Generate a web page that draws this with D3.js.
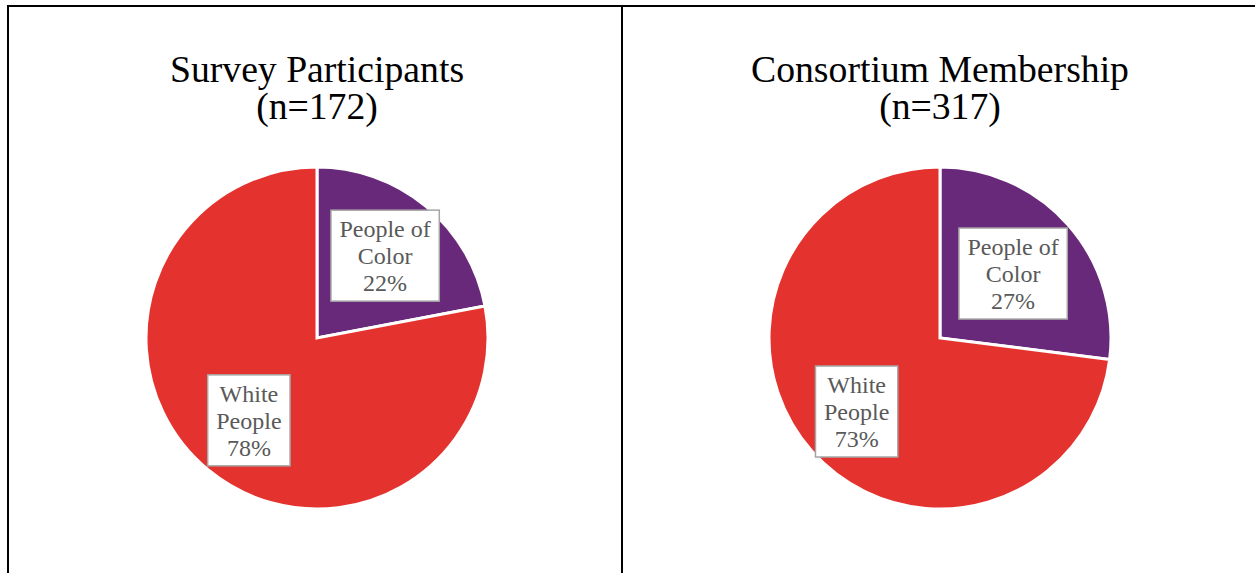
<!DOCTYPE html>
<html>
<head>
<meta charset="utf-8">
<script src="https://cdn.jsdelivr.net/npm/d3@7/dist/d3.min.js"></script>
<style>
  html, body { margin: 0; padding: 0; background: #fff; }
  svg { display: block; }
</style>
</head>
<body>
<svg id="chart" width="1255" height="573"></svg>
<script>
// Group names and colours shared by both pies
const categories = ["People of Color", "White People"];
const categoryLines = [["People of", "Color"], ["White", "People"]];
const colors = ["#68297A", "#E4332F"];

// Chart titles
const titles = [["Survey Participants", "(n=172)"], ["Consortium Membership", "(n=317)"]];

// Percent share per group
const surveyValues = [22, 78];
const consortiumValues = [27, 73];

const W = 1255, H = 573;
const svg = d3.select("#chart");

// frame lines: top rule, left rule, middle divider
const frame = svg.append("g").attr("stroke", "#000").attr("stroke-width", 2);
frame.append("line").attr("x1", 7).attr("x2", W).attr("y1", 6).attr("y2", 6);
frame.append("line").attr("x1", 8).attr("x2", 8).attr("y1", 5).attr("y2", H);
frame.append("line").attr("x1", 622).attr("x2", 622).attr("y1", 5).attr("y2", H);

const panels = [
  { cx: 317, cy: 338, title: titles[0], values: surveyValues, labelR: [0.625, 0.625] },
  { cx: 940, cy: 338, title: titles[1], values: consortiumValues, labelR: [0.57, 0.65] }
];

const radius = 171;
const pie = d3.pie().sort(null).value(d => d);
const arc = d3.arc().innerRadius(0).outerRadius(radius);

const font = "'Liberation Serif', 'Times New Roman', serif";

panels.forEach(p => {
  const g = svg.append("g");

  // title, two lines
  const t = g.append("text")
    .attr("x", p.cx).attr("y", 82)
    .attr("text-anchor", "middle")
    .attr("font-family", font)
    .attr("font-size", 37.7)
    .attr("fill", "#000");
  p.title.forEach((line, i) => {
    t.append("tspan").attr("x", p.cx).attr("dy", i === 0 ? 0 : 37).text(line);
  });

  const pg = g.append("g").attr("transform", `translate(${p.cx},${p.cy})`);
  const arcs = pie(p.values);

  pg.selectAll("path")
    .data(arcs)
    .join("path")
    .attr("d", arc)
    .attr("fill", (d, i) => colors[i])
    .attr("stroke", "#fff")
    .attr("stroke-width", 3)
    .attr("stroke-linejoin", "miter");

  // data labels in boxed callouts
  const fs = 24, lineH = 27, padX = 8.5, padY = 5;
  arcs.forEach((a, i) => {
    const mid = (a.startAngle + a.endAngle) / 2;
    const r = radius * p.labelR[i];
    const lx = Math.sin(mid) * r;
    const ly = -Math.cos(mid) * r;
    const lines = categoryLines[i].concat([d3.format(".0f")(a.data) + "%"]);

    const lg = pg.append("g");
    const rect = lg.append("rect")
      .attr("fill", "#fff")
      .attr("stroke", "#A6A6A6")
      .attr("stroke-width", 1.5);
    const txt = lg.append("text")
      .attr("text-anchor", "middle")
      .attr("font-family", font)
      .attr("font-size", fs)
      .attr("fill", "#595959");
    const boxH = lines.length * lineH + padY * 2;
    const top = ly - boxH / 2;
    lines.forEach((s, k) => {
      txt.append("tspan")
        .attr("x", lx)
        .attr("y", top + padY + 22 + k * lineH)
        .text(s);
    });
    const bb = txt.node().getBBox();
    const boxW = bb.width + padX * 2;
    rect.attr("x", lx - boxW / 2).attr("y", top).attr("width", boxW).attr("height", boxH);
  });
});
</script>
</body>
</html>
